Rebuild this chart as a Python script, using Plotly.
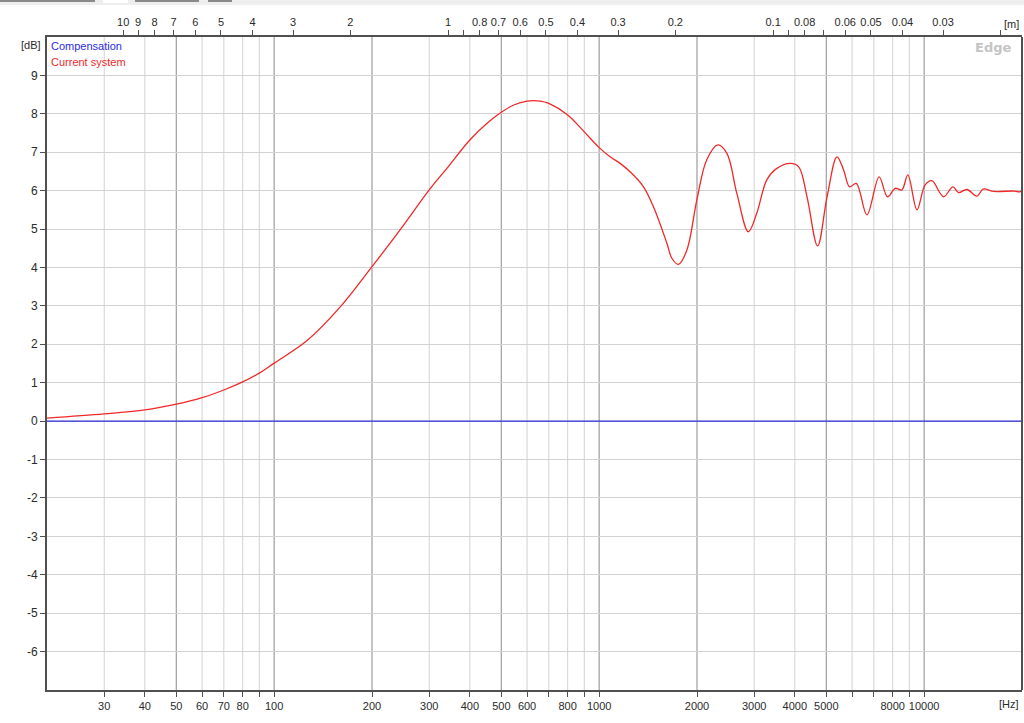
import numpy as np
import plotly.graph_objects as go

# --- data (frequency response, dB) ---
freq_hz = [20, 30, 40, 50, 60, 70, 80, 90, 100, 126, 160, 200, 244, 300, 340,
           400, 451, 500, 546, 600, 659, 700, 800, 900, 1000, 1081, 1160, 1245,
           1369, 1469, 1616, 1674, 1754, 1861, 1998, 2142, 2318, 2472, 2652,
           2879, 3054, 3280, 3522, 3874, 4111, 4361, 4700, 5026, 5392, 5650,
           5895, 6180, 6665, 7270, 7711, 8146, 8538, 8909, 9502, 10070, 10560,
           11470, 12260, 12760, 13540, 14540, 15180, 16390, 18950, 19650, 20000]
current_db = [0.08, 0.19, 0.29, 0.44, 0.61, 0.81, 1.02, 1.25, 1.51, 2.09, 2.98,
              4.02, 4.98, 6.02, 6.58, 7.32, 7.75, 8.04, 8.23, 8.33, 8.33, 8.27,
              7.97, 7.53, 7.12, 6.88, 6.71, 6.49, 6.10, 5.58, 4.63, 4.24, 4.08,
              4.45, 5.76, 6.80, 7.19, 6.97, 5.93, 4.93, 5.41, 6.28, 6.58, 6.71,
              6.62, 5.84, 4.56, 5.84, 6.88, 6.54, 6.10, 6.19, 5.37, 6.36, 5.84,
              6.06, 6.02, 6.41, 5.50, 6.15, 6.26, 5.84, 6.10, 5.95, 6.03, 5.86,
              6.04, 5.98, 5.99, 5.97, 6.00]

comp_hz = [20, 20000]
comp_db = [0, 0]

# bottom axis ticks (Hz)
hz_ticks = [30, 40, 50, 60, 70, 80, 90, 100, 200, 300, 400, 500, 600, 700, 800,
            900, 1000, 2000, 3000, 4000, 5000, 6000, 7000, 8000, 9000, 10000]
hz_labels = ["30", "40", "50", "60", "70", "80", "", "100", "200", "300", "400",
             "500", "600", "", "800", "", "1000", "2000", "3000", "4000", "5000",
             "", "", "8000", "", "10000"]

# top axis ticks (wavelength, m)
sound_speed = 343.0
m_ticks = [10, 9, 8, 7, 6, 5, 4, 3, 2, 1, 0.9, 0.8, 0.7, 0.6, 0.5, 0.4, 0.3,
           0.2, 0.1, 0.09, 0.08, 0.07, 0.06, 0.05, 0.04, 0.03, 0.02]
m_labels = ["10", "9", "8", "7", "6", "5", "4", "3", "2", "1", "", "0.8", "0.7",
            "0.6", "0.5", "0.4", "0.3", "0.2", "0.1", "", "0.08", "", "0.06",
            "0.05", "0.04", "0.03", ""]

db_ticks = list(range(-6, 10))
db_labels = [str(v) for v in db_ticks]   # plain hyphen minus like the original

# grid lines
grid_dark = [50, 100, 200, 500, 1000, 2000, 5000, 10000]
grid_light = [30, 40, 60, 70, 80, 90, 300, 400, 600, 700, 800, 900,
              3000, 4000, 6000, 7000, 8000, 9000]

W, H = 1024, 723
ML, MR, MT, MB = 47, 2, 37, 33
FONT = "Liberation Sans"
AX = "#505050"
TXT = "#2a2a2a"
xr = [np.log10(20), np.log10(20000)]

fig = go.Figure()
fig.add_trace(go.Scatter(x=comp_hz, y=comp_db, mode="lines", xaxis="x2",
                         line=dict(color="#2a2ad8", width=1.2),
                         name="Compensation", hoverinfo="skip"))
fig.add_trace(go.Scatter(x=freq_hz, y=current_db, mode="lines",
                         line=dict(color="#f02828", width=1.3, shape="spline",
                                   smoothing=1.0),
                         name="Current system"))

shapes = []
for f in grid_light:
    shapes.append(dict(type="line", xref="x", yref="paper", x0=f, x1=f, y0=0, y1=1,
                       line=dict(color="#d2d2d2", width=1), layer="below"))
for f in grid_dark:
    shapes.append(dict(type="line", xref="x", yref="paper", x0=f, x1=f, y0=0, y1=1,
                       line=dict(color="#a4a4a4", width=1.3), layer="below"))
# right border
shapes.append(dict(type="line", xref="paper", yref="paper", x0=1, x1=1, y0=0, y1=1,
                   line=dict(color=AX, width=2)))

# bits of the window toolbar peeking in at the top of the screenshot
pw, ph = W - ML - MR, H - MT - MB
def px_rect(x0, x1, y0, y1, color):
    return dict(type="rect", xref="paper", yref="paper",
                x0=(x0 - ML) / pw, x1=(x1 - ML) / pw,
                y0=1 + (MT - y1) / ph, y1=1 + (MT - y0) / ph,
                fillcolor=color, line=dict(width=0), layer="below")
shapes.append(px_rect(0, W, 0, 5, "#eeeeee"))
for a, b in [(0, 95), (135, 199), (208, 232)]:
    shapes.append(px_rect(a, b, 0, 2, "#8a8a8a"))
shapes.append(px_rect(103, 128, 0, 3, "#ffffff"))

annos = [
    dict(text="Compensation", xref="paper", yref="paper", x=0, y=1, xanchor="left",
         yanchor="top", xshift=2, yshift=-1, showarrow=False,
         font=dict(family=FONT, size=11, color="#2a2ae8")),
    dict(text="Current system", xref="paper", yref="paper", x=0, y=1, xanchor="left",
         yanchor="top", xshift=2, yshift=-17, showarrow=False,
         font=dict(family=FONT, size=11, color="#f02828")),
    dict(text="[dB]", xref="paper", yref="paper", x=0, y=1, xanchor="right",
         yanchor="top", xshift=-4, yshift=0, showarrow=False,
         font=dict(family=FONT, size=11, color=TXT)),
    dict(text="[Hz]", xref="paper", yref="paper", x=1, y=0, xanchor="right",
         yanchor="top", xshift=-1, yshift=-6, showarrow=False,
         font=dict(family=FONT, size=11, color=TXT)),
    dict(text="[m]", xref="paper", yref="paper", x=1, y=1, xanchor="right",
         yanchor="bottom", xshift=-1, yshift=5, showarrow=False,
         font=dict(family=FONT, size=11, color=TXT)),
    dict(text="<b>Edge</b>", xref="paper", yref="paper", x=1, y=1,
         xanchor="right", yanchor="top", xshift=-9, yshift=-1, showarrow=False,
         font=dict(family="DejaVu Sans", size=13, color="#c4c4c4")),
]

tick_font = dict(family=FONT, size=11, color=TXT)

fig.update_layout(
    width=W, height=H,
    margin=dict(l=ML, r=MR, t=MT, b=MB),
    paper_bgcolor="white", plot_bgcolor="white",
    showlegend=False,
    shapes=shapes, annotations=annos,
    font=dict(family=FONT, size=11, color=TXT),
    xaxis=dict(type="log", range=xr, tickvals=hz_ticks, ticktext=hz_labels,
               ticks="outside", ticklen=5, tickcolor=AX, showgrid=False,
               showline=True, linecolor=AX, linewidth=2, mirror=False,
               zeroline=False, tickangle=0, automargin=False, tickfont=tick_font),
    xaxis2=dict(type="log", range=xr, overlaying="x", side="top",
                tickvals=[sound_speed / m for m in m_ticks], ticktext=m_labels,
                ticks="outside", ticklen=5, tickcolor=AX, showgrid=False,
                showline=True, linecolor=AX, linewidth=2, zeroline=False,
                tickangle=0, automargin=False, tickfont=tick_font),
    yaxis=dict(range=[-7, 10], tickvals=db_ticks, ticktext=db_labels,
               ticks="outside", ticklen=5,
               tickcolor=AX, showgrid=True, gridcolor="#d2d2d2", gridwidth=1,
               showline=True, linecolor=AX, linewidth=2, mirror=False,
               zeroline=False, automargin=False,
               tickfont=dict(family=FONT, size=12, color=TXT)),
)

# drop the default 8px body margin so the figure fills the window exactly
fig.write_html("out.html", config={"displayModeBar": False},
               post_script="document.body.style.margin='0';"
                           "document.body.style.overflow='hidden';")
